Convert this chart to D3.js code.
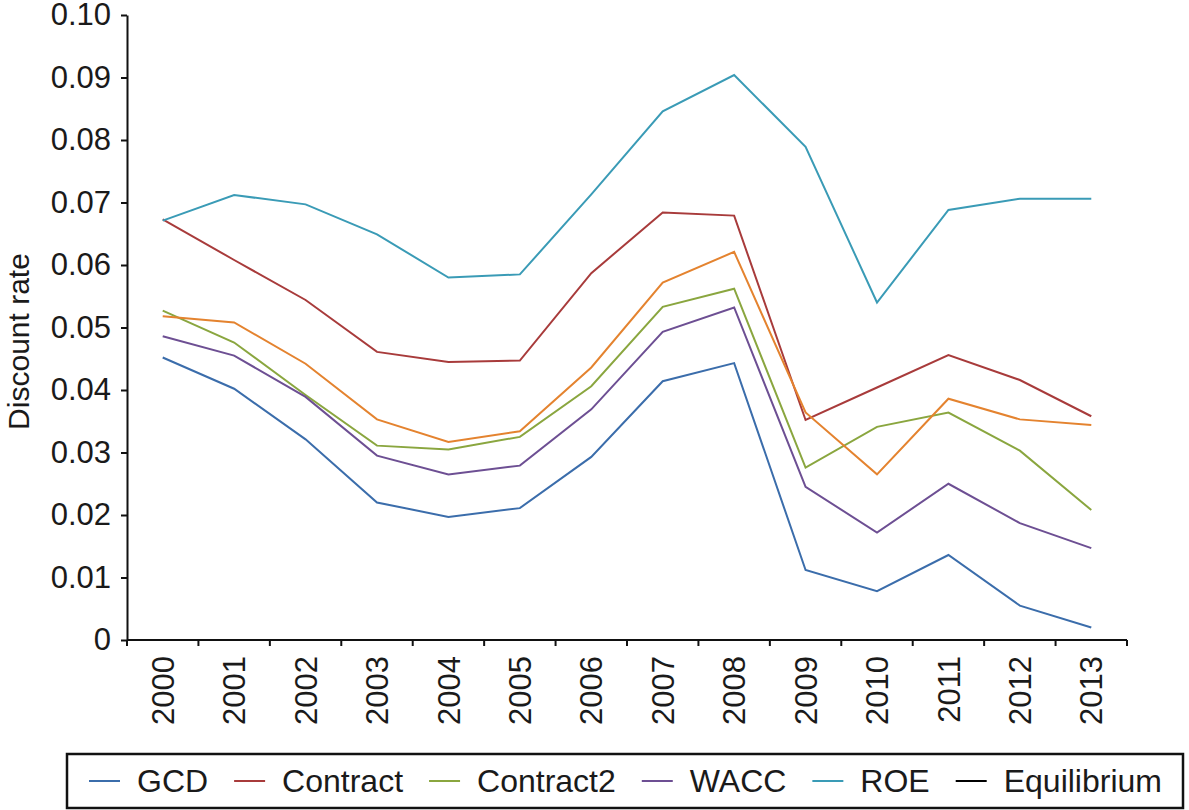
<!DOCTYPE html>
<html>
<head>
<meta charset="utf-8">
<script src="https://cdn.jsdelivr.net/npm/d3@7"></script>
<style>
  html, body { margin: 0; padding: 0; background: #fff; }
  svg text { font-family: "Liberation Sans", Arial, Helvetica, sans-serif; fill: #1a1a1a; }
</style>
</head>
<body>
<svg id="chart" width="1189" height="810"></svg>
<script>
const years = ["2000","2001","2002","2003","2004","2005","2006","2007","2008","2009","2010","2011","2012","2013"];
const yTicks = [0, 0.01, 0.02, 0.03, 0.04, 0.05, 0.06, 0.07, 0.08, 0.09, 0.10];
const gcd         = [0.0452, 0.0402, 0.0321, 0.0220, 0.0197, 0.0211, 0.0293, 0.0414, 0.0443, 0.0112, 0.0078, 0.0136, 0.0055, 0.0020];
const contract    = [0.0673, 0.0608, 0.0544, 0.0461, 0.0445, 0.0447, 0.0587, 0.0684, 0.0679, 0.0352, 0.0404, 0.0456, 0.0416, 0.0358];
const contract2   = [0.0527, 0.0476, 0.0392, 0.0311, 0.0305, 0.0325, 0.0406, 0.0533, 0.0562, 0.0276, 0.0341, 0.0364, 0.0303, 0.0208];
const wacc        = [0.0486, 0.0455, 0.0389, 0.0295, 0.0265, 0.0279, 0.0369, 0.0493, 0.0532, 0.0245, 0.0172, 0.0250, 0.0187, 0.0147];
const roe         = [0.0671, 0.0712, 0.0697, 0.0649, 0.0580, 0.0585, 0.0713, 0.0846, 0.0904, 0.0789, 0.0540, 0.0688, 0.0706, 0.0706];
const equilibrium = [0.0518, 0.0508, 0.0442, 0.0353, 0.0317, 0.0334, 0.0436, 0.0572, 0.0621, 0.0364, 0.0265, 0.0386, 0.0353, 0.0344];

const seriesNames = ["GCD", "Contract", "Contract2", "WACC", "ROE", "Equilibrium"];
const seriesValues = [gcd, contract, contract2, wacc, roe, equilibrium];
const lineColors = ["#3b6dab", "#a83b3b", "#8aa63f", "#6d4f93", "#3a9bb6", "#e4832f"];
const legendColors = ["#3b6dab", "#a83b3b", "#8aa63f", "#6d4f93", "#3a9bb6", "#000000"];

(function () {
const svg = d3.select("#chart");
const pLeft = 127, pRight = 1127, pTop = 15, pBottom = 640;

const x = d3.scaleBand().domain(years).range([pLeft, pRight]).paddingInner(0).paddingOuter(0);
const y = d3.scaleLinear().domain([0, 0.10]).range([pBottom, pTop]);
const cx = d => x(d) + x.bandwidth() / 2;

// series lines
const line = d3.line().x((d, i) => cx(years[i])).y(d => y(d));
seriesValues.forEach((vals, k) => {
  svg.append("path")
    .datum(vals)
    .attr("fill", "none")
    .attr("stroke", lineColors[k])
    .attr("stroke-width", 2)
    .attr("stroke-linejoin", "miter")
    .attr("d", line);
});

// y axis
const yAxis = d3.axisLeft(y).tickValues(yTicks)
  .tickFormat(d => d === 0 ? "0" : d3.format(".2f")(d))
  .tickSize(6).tickSizeOuter(0).tickPadding(10);
const gy = svg.append("g").attr("transform", `translate(${pLeft},0)`).call(yAxis);
gy.select(".domain").attr("stroke", "#111").attr("stroke-width", 2);
gy.selectAll(".tick line").attr("stroke", "#111").attr("stroke-width", 2);
gy.selectAll(".tick text").style("font-size", "31px").attr("fill", "#1a1a1a");

// x axis (labels at band centres, ticks at band boundaries)
const gx = svg.append("g").attr("transform", `translate(0,${pBottom})`);
gx.append("line").attr("x1", pLeft).attr("x2", pRight).attr("y1", 0).attr("y2", 0)
  .attr("stroke", "#111").attr("stroke-width", 2);
const boundaries = years.map(d => x(d)).concat([pRight]);
gx.selectAll(".xtick").data(boundaries).enter().append("line")
  .attr("x1", d => d).attr("x2", d => d).attr("y1", 0).attr("y2", 6)
  .attr("stroke", "#111").attr("stroke-width", 2);
gx.selectAll(".xlabel").data(years).enter().append("text")
  .attr("transform", d => `translate(${cx(d)},16) rotate(-90)`)
  .attr("text-anchor", "end")
  .attr("dy", "0.36em")
  .style("font-size", "31px")
  .text(d => d);

// y axis title
svg.append("text")
  .attr("transform", `translate(29,${(pTop + pBottom) / 2 + 14}) rotate(-90)`)
  .attr("text-anchor", "middle")
  .style("font-size", "30px")
  .text("Discount rate");

// legend
const lg = svg.append("g");
lg.append("rect").attr("x", 67).attr("y", 754).attr("width", 1116).attr("height", 54)
  .attr("fill", "#fff").attr("stroke", "#111").attr("stroke-width", 2.5);
let lx = 89;
const ly = 781;
seriesNames.forEach((name, k) => {
  lg.append("line").attr("x1", lx).attr("x2", lx + 31).attr("y1", ly).attr("y2", ly)
    .attr("stroke", legendColors[k]).attr("stroke-width", 2);
  const t = lg.append("text").attr("x", lx + 48).attr("y", ly + 11)
    .style("font-size", "32px").text(name);
  const w = t.node().getComputedTextLength();
  lx = lx + 48 + w + 26;
});
})();
</script>
</body>
</html>
